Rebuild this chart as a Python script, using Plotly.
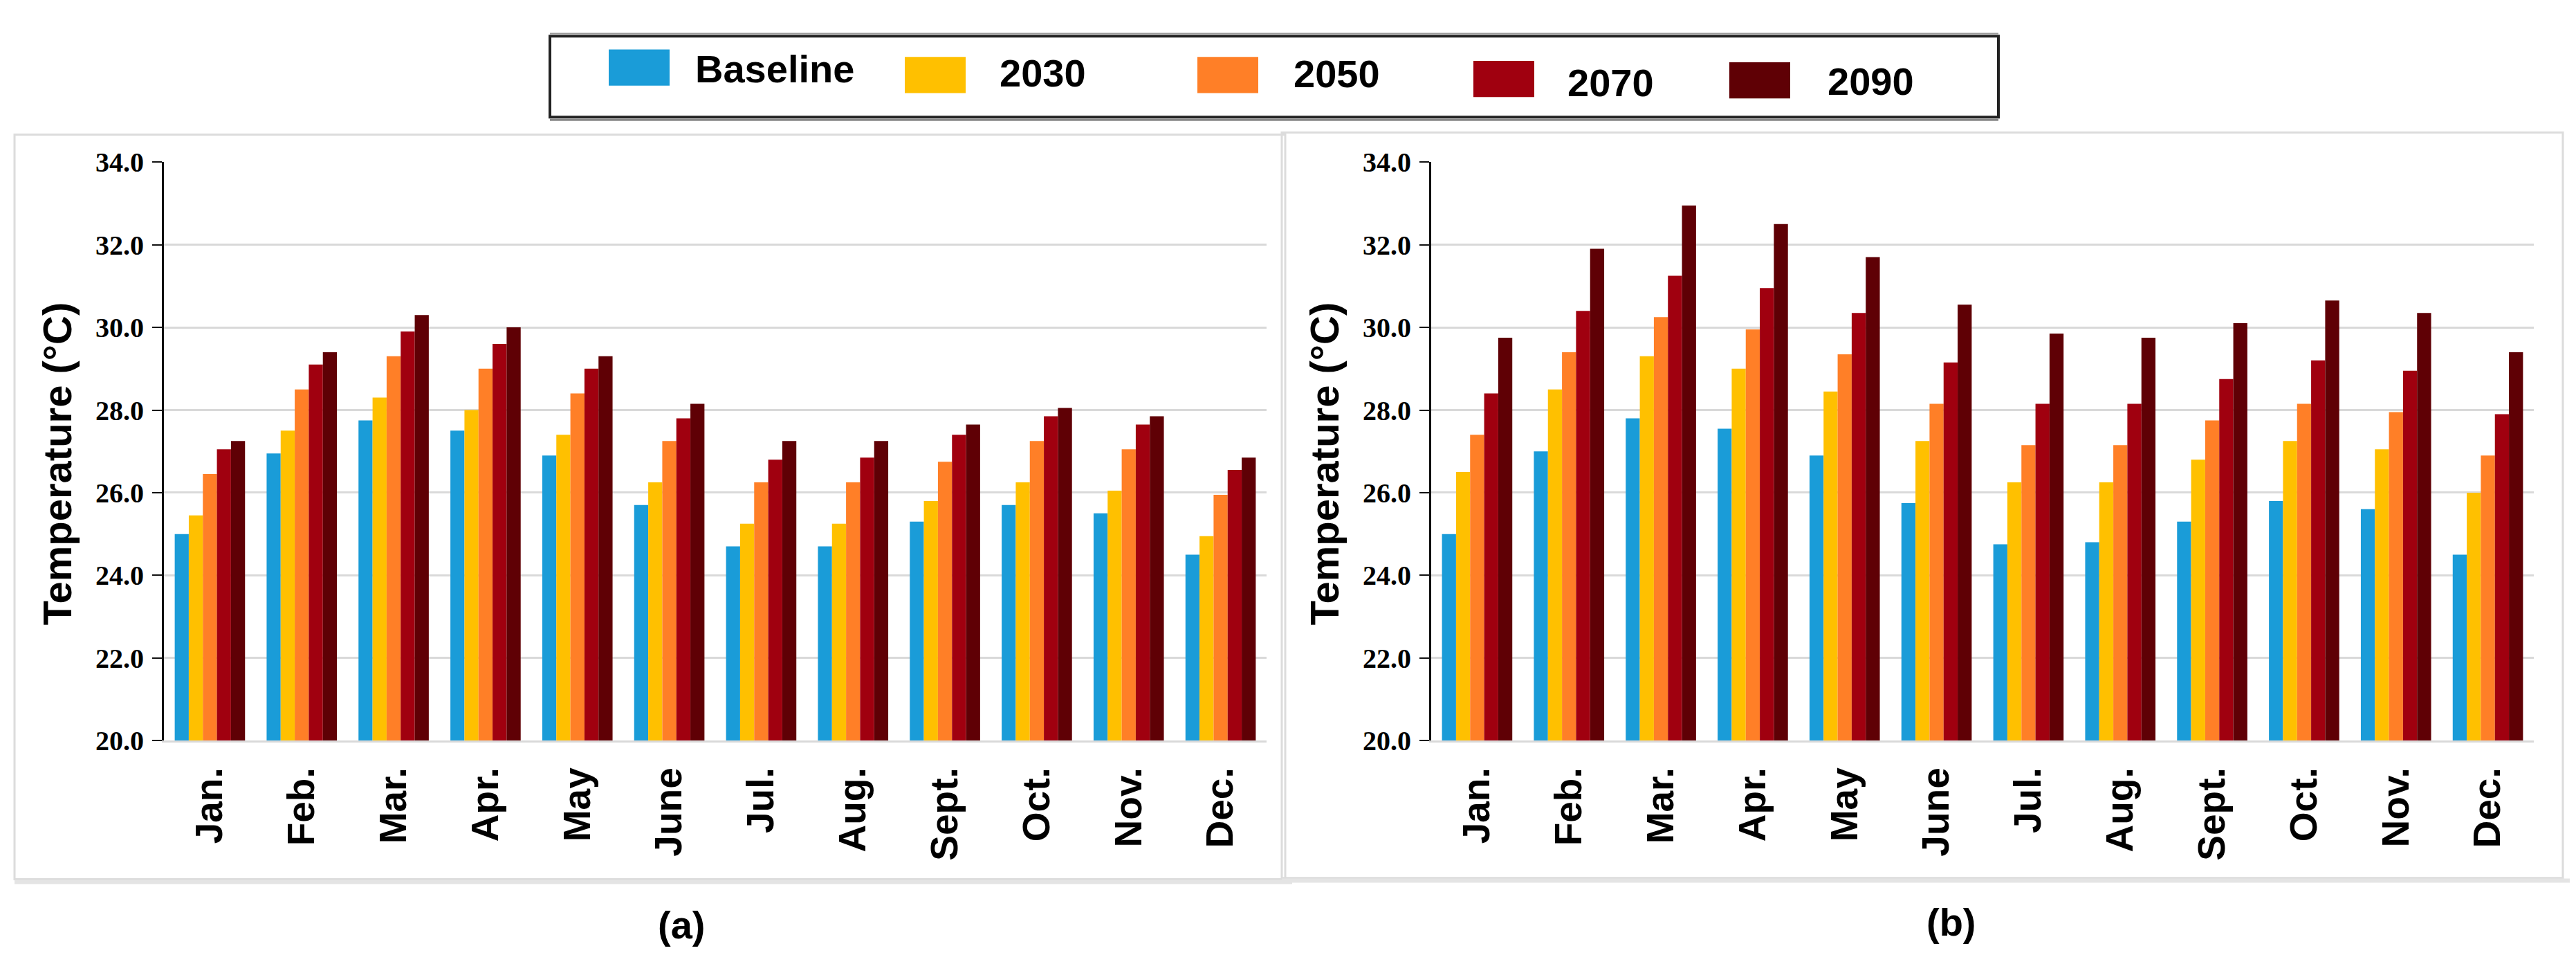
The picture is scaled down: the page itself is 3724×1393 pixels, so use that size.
import plotly.graph_objects as go

months = ["Jan.", "Feb.", "Mar.", "Apr.", "May", "June", "Jul.", "Aug.", "Sept.", "Oct.", "Nov.", "Dec."]
series_names = ["Baseline", "2030", "2050", "2070", "2090"]
series_colors = ["#1A9CD8", "#FFC000", "#FF7F27", "#A0000F", "#5F0005"]

# Panel (a)
a_baseline = [25.0, 26.95, 27.75, 27.5, 26.9, 25.7, 24.7, 24.7, 25.3, 25.7, 25.5, 24.5]
a_2030 = [25.45, 27.5, 28.3, 28.0, 27.4, 26.25, 25.25, 25.25, 25.8, 26.25, 26.05, 24.95]
a_2050 = [26.45, 28.5, 29.3, 29.0, 28.4, 27.25, 26.25, 26.25, 26.75, 27.25, 27.05, 25.95]
a_2070 = [27.05, 29.1, 29.9, 29.6, 29.0, 27.8, 26.8, 26.85, 27.4, 27.85, 27.65, 26.55]
a_2090 = [27.25, 29.4, 30.3, 30.0, 29.3, 28.15, 27.25, 27.25, 27.65, 28.05, 27.85, 26.85]

# Panel (b)
b_baseline = [25.0, 27.0, 27.8, 27.55, 26.9, 25.75, 24.75, 24.8, 25.3, 25.8, 25.6, 24.5]
b_2030 = [26.5, 28.5, 29.3, 29.0, 28.45, 27.25, 26.25, 26.25, 26.8, 27.25, 27.05, 26.0]
b_2050 = [27.4, 29.4, 30.25, 29.95, 29.35, 28.15, 27.15, 27.15, 27.75, 28.15, 27.95, 26.9]
b_2070 = [28.4, 30.4, 31.25, 30.95, 30.35, 29.15, 28.15, 28.15, 28.75, 29.2, 28.95, 27.9]
b_2090 = [29.75, 31.9, 32.95, 32.5, 31.7, 30.55, 29.85, 29.75, 30.1, 30.65, 30.35, 29.4]

panel_a = [a_baseline, a_2030, a_2050, a_2070, a_2090]
panel_b = [b_baseline, b_2030, b_2050, b_2070, b_2090]

W, H = 3724, 1393
OFF = 8  # default page body margin


def px(x):
    return (x - OFF) / W


def py(y):
    return 1 - (y - OFF) / H


fig = go.Figure()
for vals, xa, ya in [(panel_a, "x", "y"), (panel_b, "x2", "y2")]:
    for name, color, v in zip(series_names, series_colors, vals):
        fig.add_trace(go.Bar(x=months, y=v, name=name, marker=dict(color=color, line=dict(width=0)),
                             xaxis=xa, yaxis=ya, showlegend=False))

ydom = [py(1083), py(219)]
yaxis_common = dict(
    range=[20, 34], dtick=2, tick0=20, tickformat=".1f",
    ticks="outside", ticklen=14, tickwidth=2, tickcolor="#111111",
    showline=True, linecolor="#111111", linewidth=3,
    showgrid=True, gridcolor="#D9D9D9", gridwidth=3,
    zeroline=False,
    tickfont=dict(family="Liberation Serif", size=40, color="black", weight="bold"),
    ticklabelstandoff=4,
)
xaxis_common = dict(
    tickangle=-90, showline=True, linecolor="#D9D9D9", linewidth=3, ticks="",
    showgrid=False, zeroline=False,
    tickfont=dict(family="Liberation Sans", size=55, color="black", weight="bold"),
    ticklabelstandoff=14,
)

fig.update_layout(
    width=W, height=H,
    margin=dict(l=0, r=0, t=0, b=0),
    paper_bgcolor="white", plot_bgcolor="white",
    barmode="group", bargap=0.235, bargroupgap=0,
    xaxis=dict(domain=[px(237), px(1831)], anchor="y", **xaxis_common),
    yaxis=dict(domain=ydom, anchor="x", **yaxis_common),
    xaxis2=dict(domain=[px(2069), px(3663)], anchor="y2", **xaxis_common),
    yaxis2=dict(domain=ydom, anchor="x2", **yaxis_common),
)

shapes = []
annotations = []
# panel frames
for x0, x1, y0, y1 in [(21, 1858, 178, 1290), (1853, 3705, 175, 1288)]:
    shapes.append(dict(type="rect", xref="paper", yref="paper", x0=px(x0), x1=px(x1), y0=py(y1), y1=py(y0),
                       line=dict(color="#DCDCDC", width=3), layer="below"))
    shapes.append(dict(type="line", xref="paper", yref="paper", x0=px(x0), x1=px(x1 + 10), y0=py(y1 + 4), y1=py(y1 + 4),
                       line=dict(color="#E4E4E4", width=6), layer="below"))

# y-axis titles
for tx in [83, 1915]:
    annotations.append(dict(text="Temperature (°C)", xref="paper", yref="paper", x=px(tx), y=py(670),
                            xanchor="center", yanchor="middle", textangle=-90, showarrow=False,
                            font=dict(family="Liberation Sans", size=58, color="black", weight="bold")))

# legend box
shapes.append(dict(type="rect", xref="paper", yref="paper", x0=px(795), x1=px(2889), y0=py(152), y1=py(31),
                   line=dict(color="#222222", width=4)))
shapes.append(dict(type="line", xref="paper", yref="paper", x0=px(795), x1=px(2889), y0=py(156), y1=py(156),
                   line=dict(color="#888888", width=3)))
shapes.append(dict(type="line", xref="paper", yref="paper", x0=px(795), x1=px(2889), y0=py(27), y1=py(27),
                   line=dict(color="#9A9A9A", width=2)))

# legend layout (swatch left edge, swatch vertical centre, text left edge, text centre)
leg_swatch_x = [880, 1308, 1731, 2130, 2500]
leg_swatch_y = [78, 89, 89, 95, 97]
leg_text_x = [1003, 1443, 1868, 2264, 2640]
leg_text_y = [80, 86, 87, 100, 98]
for name, color, sx, sy, tx, ty in zip(series_names, series_colors, leg_swatch_x, leg_swatch_y, leg_text_x, leg_text_y):
    shapes.append(dict(type="rect", xref="paper", yref="paper", x0=px(sx), x1=px(sx + 88),
                       y0=py(sy + 27), y1=py(sy - 27), line=dict(width=0), fillcolor=color))
    annotations.append(dict(text=name, xref="paper", yref="paper", x=px(tx), y=py(ty), xanchor="left",
                            yanchor="middle", showarrow=False,
                            font=dict(family="Liberation Sans", size=56, color="black", weight="bold")))

for lab, x, y in [("(a)", 985, 1358), ("(b)", 2821, 1354)]:
    annotations.append(dict(text=lab, xref="paper", yref="paper", x=px(x), y=py(y), xanchor="center",
                            yanchor="middle", showarrow=False,
                            font=dict(family="Liberation Sans", size=56, color="black", weight="bold")))

fig.update_layout(shapes=shapes, annotations=annotations)
fig.write_html("out.html")
